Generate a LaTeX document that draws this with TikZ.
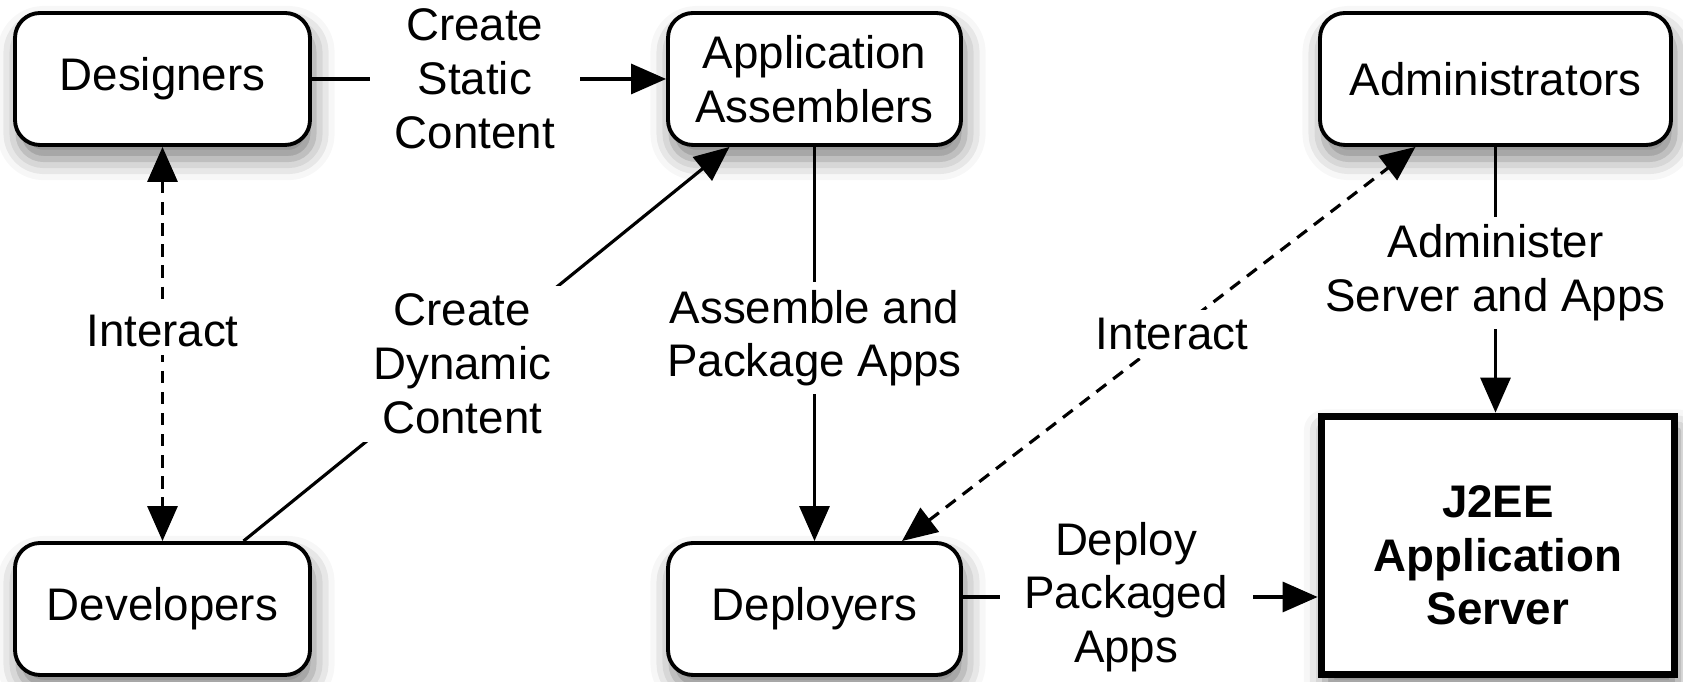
\documentclass[tikz,border=0pt]{standalone}
\usepackage{fontspec}
\setmainfont{Liberation Sans}
\usetikzlibrary{arrows.meta,shadows.blur}

\tikzstyle{actor}  = [draw, rectangle, rounded corners=2.5mm, line width=1.1pt, fill=white,
                      minimum height=1.32cm, align=center,
                      blur shadow={shadow xshift=1pt, shadow yshift=-4pt, shadow blur radius=6pt, shadow opacity=50}]
\tikzstyle{srvbox} = [draw, rectangle, line width=2.2pt, fill=white, minimum width=3.53cm,
                      minimum height=2.58cm,
                      blur shadow={shadow xshift=1pt, shadow yshift=-4pt, shadow blur radius=6pt, shadow opacity=50}]
\tikzstyle{flow}   = [-{Triangle[length=3.5mm,width=3mm]}, line width=0.9pt]
\tikzstyle{talk}   = [{Triangle[length=3.5mm,width=3mm]}-{Triangle[length=3.5mm,width=3mm]},
                      line width=0.9pt, dash pattern=on 3.5pt off 2.5pt]
\tikzstyle{lbl}    = [fill=white, align=center, inner xsep=0.25cm, inner ysep=0.08cm]

\begin{document}
\begin{tikzpicture}[every node/.style={font=\fontsize{13pt}{15.3pt}\selectfont}]
  \useasboundingbox (0,0) rectangle (16.83,6.82);
  % people
  \node at (1.625,6.03)  (designers)  [actor, minimum width=2.95cm] {Designers};
  \node at (8.145,6.03)  (assemblers) [actor, minimum width=2.93cm] {Application\\Assemblers};
  \node at (14.955,6.03) (admins)     [actor, minimum width=3.51cm] {Administrators};
  \node at (1.625,0.73)  (developers) [actor, minimum width=2.95cm] {Developers};
  \node at (8.145,0.73)  (deployers)  [actor, minimum width=2.93cm] {Deployers};
  \node at (14.98,1.365) (server)     [srvbox] {};
  \node at ([yshift=-1mm]server.center) (servertext) [align=center,
        font=\fontsize{13pt}{15.3pt}\selectfont\bfseries] {J2EE\\Application\\Server};
  % what they do
  \path[flow] (designers) edge node[lbl, pos=0.46] {Create\\Static\\Content} (assemblers);
  \path[flow] ([xshift=0.81cm]developers.north) edge node[lbl, pos=0.45] {Create\\Dynamic\\Content}
              ([xshift=-0.85cm]assemblers.south);
  \path[flow] (assemblers) edge node[lbl, pos=0.485] {Assemble and\\Package Apps} (deployers);
  \path[flow] (admins.south) edge node[lbl, pos=0.474] {Administer\\Server and Apps}
              (admins.south |- server.north);
  \path[flow] ([yshift=1.2mm]deployers.east) edge node[lbl, pos=0.46] {Deploy\\Packaged\\Apps}
              ([yshift=1.2mm]deployers.east -| server.west);
  % who talks to whom
  \path[talk] (designers) edge node[lbl, pos=0.467] {Interact} (developers);
  \path[talk] ([xshift=0.875cm]deployers.north) edge node[lbl, pos=0.526] {Interact}
              ([xshift=-0.8cm]admins.south);
\end{tikzpicture}
\end{document}
